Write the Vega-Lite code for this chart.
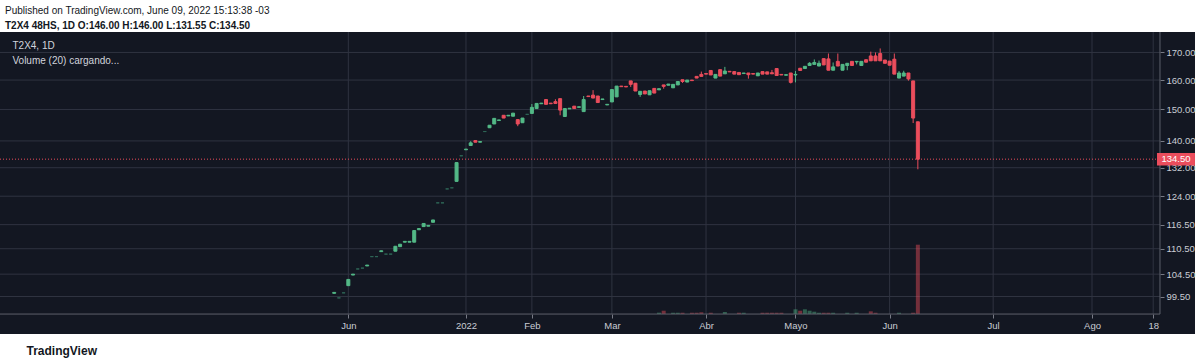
{
  "$schema": "https://vega.github.io/schema/vega-lite/v6.json",
  "width": 1195,
  "height": 302,
  "autosize": {"type": "none"},
  "padding": {"left": 0, "top": 32, "right": 5, "bottom": 29},
  "background": "white",
  "config": {"view": {"fill": "#131722", "stroke": null}, "font": "Liberation Sans"},
  "title": {
    "text": "Published on TradingView.com, June 09, 2022 15:13:38 -03",
    "subtitle": "T2X4 48HS, 1D  O:146.00 H:146.00 L:131.55 C:134.50",
    "anchor": "start", "frame": "group", "dx": 5, "offset": 1,
    "font": "Liberation Sans", "fontSize": 10, "fontWeight": "normal", "color": "#131722",
    "subtitleFont": "Liberation Sans", "subtitleFontSize": 10, "subtitleFontWeight": "bold", "subtitleColor": "#131722", "subtitlePadding": 5
  },
  "datasets": {
    "bars": [
      {"i":0,"O":100.2,"H":100.4,"L":100.2,"C":100.4,"V":0},
      {"i":1,"O":99.2,"H":99.2,"L":99.2,"C":99.2,"V":0},
      {"i":2,"O":100.3,"H":100.3,"L":100.3,"C":100.3,"V":0},
      {"i":3,"O":101.9,"H":103.3,"L":101.9,"C":103.3,"V":0},
      {"i":4,"O":104.3,"H":104.5,"L":104.3,"C":104.5,"V":0},
      {"i":5,"O":105.7,"H":105.7,"L":105.7,"C":105.7,"V":0},
      {"i":6,"O":105.9,"H":105.9,"L":105.9,"C":105.9,"V":0},
      {"i":7,"O":106.4,"H":106.6,"L":106.4,"C":106.6,"V":0},
      {"i":8,"O":108.6,"H":108.6,"L":108.6,"C":108.6,"V":0},
      {"i":9,"O":108.6,"H":108.6,"L":108.6,"C":108.6,"V":0},
      {"i":10,"O":109.8,"H":110.0,"L":109.8,"C":110.0,"V":0},
      {"i":11,"O":109.2,"H":109.2,"L":109.2,"C":109.2,"V":0},
      {"i":12,"O":109.2,"H":109.2,"L":109.2,"C":109.2,"V":0},
      {"i":13,"O":109.9,"H":111.1,"L":109.9,"C":111.1,"V":0},
      {"i":14,"O":111.0,"H":111.6,"L":111.0,"C":111.6,"V":0},
      {"i":15,"O":112.1,"H":112.3,"L":112.1,"C":112.3,"V":0},
      {"i":16,"O":112.1,"H":112.3,"L":112.1,"C":112.3,"V":0},
      {"i":17,"O":112.1,"H":115.0,"L":112.1,"C":115.0,"V":0},
      {"i":18,"O":115.2,"H":115.5,"L":115.2,"C":115.5,"V":0},
      {"i":19,"O":116.0,"H":116.8,"L":116.0,"C":116.8,"V":0},
      {"i":20,"O":116.1,"H":116.3,"L":116.1,"C":116.3,"V":0},
      {"i":21,"O":117.1,"H":117.7,"L":117.1,"C":117.7,"V":0},
      {"i":22,"O":122.2,"H":122.2,"L":122.2,"C":122.2,"V":0},
      {"i":23,"O":122.2,"H":122.2,"L":122.2,"C":122.2,"V":0},
      {"i":24,"O":126.0,"H":126.0,"L":126.0,"C":126.0,"V":0},
      {"i":25,"O":126.3,"H":126.3,"L":126.3,"C":126.3,"V":0},
      {"i":26,"O":128.1,"H":133.5,"L":128.1,"C":133.5,"V":0},
      {"i":27,"O":135.5,"H":135.5,"L":135.5,"C":135.5,"V":0},
      {"i":28,"O":137.3,"H":137.5,"L":137.3,"C":137.5,"V":0},
      {"i":29,"O":138.6,"H":139.9,"L":138.6,"C":139.4,"V":0},
      {"i":30,"O":140.1,"H":140.1,"L":139.6,"C":139.6,"V":0},
      {"i":31,"O":139.6,"H":139.8,"L":139.6,"C":139.8,"V":0},
      {"i":32,"O":142.9,"H":142.9,"L":142.9,"C":142.9,"V":0},
      {"i":33,"O":144.1,"H":144.9,"L":144.1,"C":144.9,"V":0},
      {"i":34,"O":145.3,"H":147.1,"L":145.3,"C":147.1,"V":0},
      {"i":35,"O":146.4,"H":146.6,"L":146.4,"C":146.6,"V":0},
      {"i":36,"O":148.1,"H":148.1,"L":147.2,"C":147.2,"V":0},
      {"i":37,"O":147.9,"H":148.1,"L":147.9,"C":148.1,"V":0},
      {"i":38,"O":147.8,"H":148.8,"L":147.8,"C":148.8,"V":0},
      {"i":39,"O":146.7,"H":146.7,"L":144.6,"C":145.3,"V":0},
      {"i":40,"O":145.7,"H":147.2,"L":145.7,"C":147.2,"V":0},
      {"i":41,"O":148.4,"H":148.4,"L":148.4,"C":148.4,"V":0},
      {"i":42,"O":148.7,"H":151.8,"L":148.7,"C":150.7,"V":0},
      {"i":43,"O":150.3,"H":152.0,"L":150.3,"C":152.0,"V":0},
      {"i":44,"O":151.9,"H":152.1,"L":151.9,"C":152.1,"V":0},
      {"i":45,"O":153.3,"H":153.3,"L":151.7,"C":151.7,"V":0},
      {"i":46,"O":152.1,"H":152.1,"L":151.9,"C":151.9,"V":0},
      {"i":47,"O":152.6,"H":153.4,"L":152.0,"C":152.0,"V":0},
      {"i":48,"O":153.6,"H":153.6,"L":148.1,"C":149.8,"V":0},
      {"i":49,"O":147.7,"H":150.3,"L":147.7,"C":150.3,"V":0},
      {"i":50,"O":150.2,"H":150.4,"L":150.2,"C":150.4,"V":0},
      {"i":51,"O":151.1,"H":151.1,"L":150.3,"C":150.3,"V":0},
      {"i":52,"O":150.7,"H":150.9,"L":150.7,"C":150.9,"V":0},
      {"i":53,"O":149.3,"H":154.5,"L":149.3,"C":153.3,"V":0},
      {"i":54,"O":154.5,"H":154.5,"L":154.3,"C":154.3,"V":0},
      {"i":55,"O":154.8,"H":156.5,"L":153.8,"C":153.8,"V":0},
      {"i":56,"O":154.5,"H":154.5,"L":152.3,"C":152.3,"V":0},
      {"i":57,"O":153.3,"H":153.5,"L":153.3,"C":153.5,"V":0},
      {"i":58,"O":151.5,"H":151.7,"L":151.5,"C":151.7,"V":0},
      {"i":59,"O":152.5,"H":156.7,"L":152.5,"C":156.7,"V":0},
      {"i":60,"O":154.2,"H":157.9,"L":154.2,"C":157.9,"V":0},
      {"i":61,"O":157.9,"H":157.9,"L":157.7,"C":157.7,"V":0},
      {"i":62,"O":157.8,"H":157.8,"L":157.6,"C":157.6,"V":0},
      {"i":63,"O":159.7,"H":159.7,"L":157.6,"C":158.5,"V":0},
      {"i":64,"O":158.9,"H":158.9,"L":156.2,"C":156.2,"V":0},
      {"i":65,"O":155.0,"H":156.1,"L":154.2,"C":156.1,"V":0},
      {"i":66,"O":156.2,"H":156.2,"L":155.2,"C":155.2,"V":0},
      {"i":67,"O":154.9,"H":156.3,"L":154.9,"C":156.3,"V":0},
      {"i":68,"O":157.1,"H":157.1,"L":155.5,"C":155.5,"V":0},
      {"i":69,"O":156.6,"H":157.0,"L":156.6,"C":157.0,"V":1.9},
      {"i":70,"O":158.3,"H":158.3,"L":157.0,"C":157.8,"V":4.7},
      {"i":71,"O":158.2,"H":158.6,"L":158.2,"C":158.6,"V":0},
      {"i":72,"O":157.3,"H":158.5,"L":157.3,"C":158.5,"V":1.8},
      {"i":73,"O":158.3,"H":159.5,"L":158.3,"C":159.5,"V":1.8},
      {"i":74,"O":160.1,"H":160.1,"L":159.0,"C":159.5,"V":1.8},
      {"i":75,"O":159.3,"H":160.0,"L":159.3,"C":160.0,"V":0},
      {"i":76,"O":160.0,"H":160.0,"L":159.8,"C":159.8,"V":1.8},
      {"i":77,"O":161.3,"H":161.3,"L":160.7,"C":160.7,"V":1.8},
      {"i":78,"O":162.0,"H":163.0,"L":161.3,"C":161.3,"V":2.4},
      {"i":79,"O":162.3,"H":162.3,"L":162.1,"C":162.1,"V":0},
      {"i":80,"O":163.4,"H":163.4,"L":161.8,"C":161.8,"V":1.8},
      {"i":81,"O":160.7,"H":162.0,"L":160.7,"C":162.0,"V":0},
      {"i":82,"O":163.7,"H":163.7,"L":161.4,"C":161.4,"V":0},
      {"i":83,"O":162.2,"H":164.7,"L":162.2,"C":163.2,"V":2.9},
      {"i":84,"O":163.1,"H":163.1,"L":162.9,"C":162.9,"V":0},
      {"i":85,"O":163.0,"H":163.0,"L":162.1,"C":162.1,"V":0},
      {"i":86,"O":162.7,"H":162.7,"L":161.9,"C":161.9,"V":1.8},
      {"i":87,"O":162.3,"H":162.5,"L":162.3,"C":162.5,"V":1.8},
      {"i":88,"O":162.5,"H":162.5,"L":160.5,"C":161.9,"V":0},
      {"i":89,"O":162.3,"H":162.3,"L":162.1,"C":162.1,"V":0},
      {"i":90,"O":161.5,"H":162.5,"L":161.5,"C":162.5,"V":0},
      {"i":91,"O":163.0,"H":163.0,"L":162.1,"C":162.1,"V":1.8},
      {"i":92,"O":162.9,"H":162.9,"L":162.1,"C":162.1,"V":1.8},
      {"i":93,"O":162.6,"H":163.6,"L":162.2,"C":162.2,"V":1.8},
      {"i":94,"O":164.1,"H":164.1,"L":161.6,"C":161.6,"V":1.8},
      {"i":95,"O":162.0,"H":162.0,"L":161.8,"C":161.8,"V":1.8},
      {"i":96,"O":161.7,"H":161.9,"L":161.7,"C":161.9,"V":0},
      {"i":97,"O":162.5,"H":162.5,"L":158.8,"C":159.2,"V":0},
      {"i":98,"O":161.8,"H":163.2,"L":159.2,"C":162.0,"V":6.7},
      {"i":99,"O":164.2,"H":164.2,"L":163.4,"C":163.4,"V":4.7},
      {"i":100,"O":164.1,"H":164.9,"L":164.1,"C":164.9,"V":6.7},
      {"i":101,"O":165.2,"H":166.4,"L":165.2,"C":166.0,"V":4.7},
      {"i":102,"O":165.6,"H":167.4,"L":165.6,"C":166.3,"V":3.3},
      {"i":103,"O":165.0,"H":167.0,"L":165.0,"C":166.0,"V":1.8},
      {"i":104,"O":167.7,"H":167.7,"L":165.4,"C":165.4,"V":1.8},
      {"i":105,"O":167.6,"H":169.6,"L":163.5,"C":163.5,"V":1.8},
      {"i":106,"O":163.5,"H":166.3,"L":163.5,"C":164.7,"V":1.8},
      {"i":107,"O":166.7,"H":169.6,"L":165.0,"C":165.0,"V":0},
      {"i":108,"O":163.5,"H":165.6,"L":163.5,"C":165.6,"V":0},
      {"i":109,"O":165.2,"H":166.0,"L":163.5,"C":166.0,"V":1.8},
      {"i":110,"O":166.7,"H":166.7,"L":165.2,"C":165.2,"V":0},
      {"i":111,"O":166.5,"H":166.7,"L":165.6,"C":166.7,"V":1.8},
      {"i":112,"O":165.2,"H":166.7,"L":165.2,"C":166.7,"V":0},
      {"i":113,"O":167.3,"H":167.3,"L":166.4,"C":166.4,"V":0},
      {"i":114,"O":168.7,"H":170.3,"L":166.9,"C":166.9,"V":3.8},
      {"i":115,"O":168.7,"H":170.0,"L":166.9,"C":166.9,"V":1.8},
      {"i":116,"O":169.6,"H":171.5,"L":166.9,"C":166.9,"V":0},
      {"i":117,"O":167.2,"H":167.2,"L":166.0,"C":166.0,"V":0},
      {"i":118,"O":166.8,"H":166.8,"L":165.3,"C":165.3,"V":0},
      {"i":119,"O":167.5,"H":169.6,"L":162.1,"C":162.1,"V":0},
      {"i":120,"O":160.7,"H":163.2,"L":160.7,"C":162.5,"V":1.8},
      {"i":121,"O":161.4,"H":163.3,"L":161.4,"C":162.5,"V":0},
      {"i":122,"O":162.5,"H":162.5,"L":159.8,"C":160.4,"V":0},
      {"i":123,"O":159.7,"H":159.7,"L":145.6,"C":147.2,"V":1.8},
      {"i":124,"O":146.0,"H":146.0,"L":131.55,"C":134.5,"V":99}
    ],
    "xgrid": [{"i":3},{"i":28},{"i":42},{"i":59},{"i":79},{"i":98},{"i":118},{"i":140},{"i":161},{"i":174}],
    "ygrid": [{"p":99.5},{"p":104.5},{"p":110.5},{"p":116.5},{"p":124},{"p":132},{"p":140},{"p":150},{"p":160},{"p":170}],
    "legend": [{"line": "T2X4, 1D", "p": 172.4}, {"line": "Volume (20) cargando...", "p": 166.8}],
    "last": [{"p": 134.5, "label": "134.50"}]
  },
  "resolve": {"scale": {"y": "independent"}},
  "layer": [
    {
      "data": {"name": "xgrid"},
      "mark": {"type": "rule", "color": "#2f3340", "strokeWidth": 1},
      "encoding": {
        "x": {
          "field": "i", "type": "quantitative",
          "scale": {"domain": [-71, 182.88], "nice": false, "zero": false, "padding": 0},
          "axis": {
            "orient": "bottom", "offset": -20,
            "values": [3, 28, 42, 59, 79, 98, 118, 140, 161, 174],
            "labelExpr": "datum.value == 3 ? 'Jun' : datum.value == 28 ? '2022' : datum.value == 42 ? 'Feb' : datum.value == 59 ? 'Mar' : datum.value == 79 ? 'Abr' : datum.value == 98 ? 'Mayo' : datum.value == 118 ? 'Jun' : datum.value == 140 ? 'Jul' : datum.value == 161 ? 'Ago' : '18'",
            "grid": false, "domain": false, "ticks": true, "tickSize": 4, "tickColor": "#787b86",
            "labelColor": "#c9ccd4", "labelFont": "Liberation Sans", "labelFontSize": 9.5, "labelPadding": 2,
            "labelFlush": false, "labelOverlap": false,
            "title": "TradingView", "titleAnchor": "start", "titleAlign": "left", "titleX": 26, "titleY": 36,
            "titleFont": "Liberation Sans", "titleFontSize": 12, "titleFontWeight": "bold", "titleColor": "#131722", "titleBaseline": "middle"
          }
        },
        "y": {"datum": 177.8, "type": "quantitative", "scale": {"type": "log", "domain": [91.64, 177.8], "nice": false, "zero": false}, "axis": null},
        "y2": {"datum": 95.74}
      }
    },
    {
      "data": {"name": "ygrid"},
      "mark": {"type": "rule", "color": "#2f3340", "strokeWidth": 1},
      "encoding": {
        "x": {"datum": -71, "type": "quantitative"},
        "x2": {"datum": 175.44},
        "y": {"field": "p", "type": "quantitative", "scale": {"type": "log", "domain": [91.64, 177.8], "nice": false, "zero": false}, "axis": null}
      }
    },
    {
      "data": {"name": "bars"},
      "transform": [{"filter": "datum.V > 0"}],
      "mark": {"type": "bar", "width": 4, "opacity": 0.45},
      "encoding": {
        "x": {"field": "i", "type": "quantitative"},
        "y": {"field": "V", "type": "quantitative", "scale": {"domain": [-28.57, 402.86], "nice": false, "zero": false}, "axis": null},
        "color": {"condition": {"test": "datum.C >= datum.O", "value": "#53b987"}, "value": "#eb4d5c"}
      }
    },
    {
      "data": {"name": "last"},
      "mark": {"type": "rule", "color": "#eb4d5c", "strokeWidth": 1, "strokeDash": [1, 2]},
      "encoding": {
        "x": {"datum": -71, "type": "quantitative"},
        "x2": {"datum": 175.44},
        "y": {"field": "p", "type": "quantitative", "scale": {"type": "log", "domain": [91.64, 177.8], "nice": false, "zero": false}, "axis": null}
      }
    },
    {
      "data": {"name": "bars"},
      "mark": {"type": "rule", "strokeWidth": 1},
      "encoding": {
        "x": {"field": "i", "type": "quantitative"},
        "y": {"field": "L", "type": "quantitative", "scale": {"type": "log", "domain": [91.64, 177.8], "nice": false, "zero": false}, "axis": null},
        "y2": {"field": "H"},
        "color": {"condition": [{"test": "datum.O == datum.C", "value": "#2e6656"}, {"test": "datum.C > datum.O", "value": "#53b987"}], "value": "#eb4d5c"}
      }
    },
    {
      "data": {"name": "bars"},
      "mark": {"type": "bar", "width": 3, "strokeWidth": 1},
      "encoding": {
        "x": {"field": "i", "type": "quantitative"},
        "y": {
          "field": "O", "type": "quantitative",
          "scale": {"type": "log", "domain": [91.64, 177.8], "nice": false, "zero": false},
          "axis": {
            "orient": "right", "offset": -35,
            "values": [99.5, 104.5, 110.5, 116.5, 124, 132, 140, 150, 160, 170],
            "format": ".2f", "grid": false, "domain": false, "ticks": true, "tickSize": 4, "tickColor": "#787b86",
            "labelColor": "#c9ccd4", "labelFont": "Liberation Sans", "labelFontSize": 9.5, "labelPadding": 2,
            "labelFlush": false, "labelOverlap": false, "title": null
          }
        },
        "y2": {"field": "C"},
        "color": {"condition": [{"test": "datum.O == datum.C", "value": "#2e6656"}, {"test": "datum.C > datum.O", "value": "#53b987"}], "value": "#eb4d5c"},
        "stroke": {"condition": [{"test": "datum.O == datum.C", "value": "#2e6656"}, {"test": "datum.C > datum.O", "value": "#53b987"}], "value": "#eb4d5c"}
      }
    },
    {
      "data": {"name": "last"},
      "mark": {"type": "rule", "color": "#5d606b", "strokeWidth": 1},
      "encoding": {
        "x": {"datum": -71, "type": "quantitative"},
        "x2": {"datum": 175.44},
        "y": {"datum": 95.74, "type": "quantitative", "scale": {"type": "log", "domain": [91.64, 177.8], "nice": false, "zero": false}, "axis": null}
      }
    },
    {
      "data": {"name": "last"},
      "mark": {"type": "rule", "color": "#5d606b", "strokeWidth": 1},
      "encoding": {
        "x": {"datum": 175.44, "type": "quantitative"},
        "y": {"datum": 177.8, "type": "quantitative", "scale": {"type": "log", "domain": [91.64, 177.8], "nice": false, "zero": false}, "axis": null},
        "y2": {"datum": 95.74}
      }
    },
    {
      "data": {"name": "last"},
      "mark": {"type": "point", "shape": "M-1,-0.33H1V0.33H-1Z", "size": 1444, "filled": true, "opacity": 1, "color": "#eb4d5c", "strokeWidth": 0},
      "encoding": {
        "x": {"datum": 178.84, "type": "quantitative"},
        "y": {"field": "p", "type": "quantitative", "scale": {"type": "log", "domain": [91.64, 177.8], "nice": false, "zero": false}, "axis": null}
      }
    },
    {
      "data": {"name": "last"},
      "mark": {"type": "text", "color": "#ffffff", "font": "Liberation Sans", "fontSize": 9.5, "align": "center", "baseline": "middle"},
      "encoding": {
        "x": {"datum": 178.84, "type": "quantitative"},
        "y": {"field": "p", "type": "quantitative", "scale": {"type": "log", "domain": [91.64, 177.8], "nice": false, "zero": false}, "axis": null},
        "text": {"field": "label"}
      }
    },
    {
      "data": {"name": "legend"},
      "mark": {"type": "text", "color": "#d1d4dc", "font": "Liberation Sans", "fontSize": 10, "align": "left", "baseline": "middle"},
      "encoding": {
        "x": {"datum": -68.35, "type": "quantitative"},
        "y": {"field": "p", "type": "quantitative", "scale": {"type": "log", "domain": [91.64, 177.8], "nice": false, "zero": false}, "axis": null},
        "text": {"field": "line"}
      }
    }
  ]
}
